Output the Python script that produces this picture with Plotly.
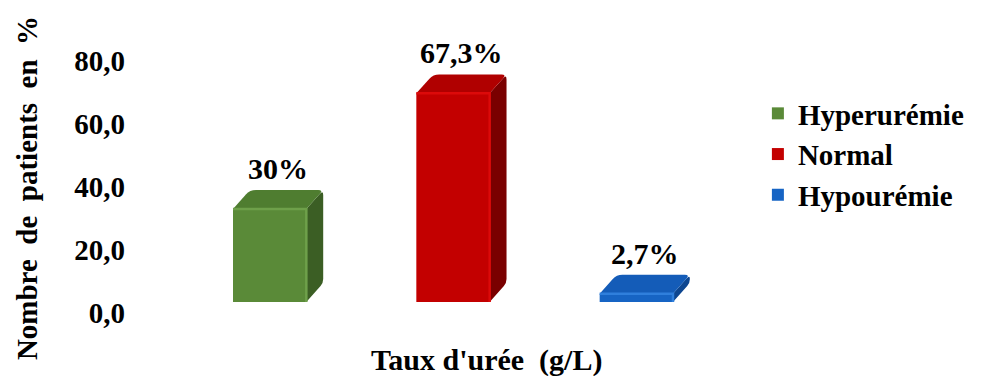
import math
import plotly.graph_objects as go

# Urea level categories and share of patients (%)
categories = ["Hyperurémie", "Normal", "Hypourémie"]
values = [30, 67.3, 2.7]
tick_values = [0, 20, 40, 60, 80]

# Face colours for each box: front, top, side, edge highlight
front_colors = ["#5a8a38", "#c30000", "#1664c4"]
top_colors = ["#4f7d30", "#b00000", "#145cb8"]
side_colors = ["#3b5e24", "#7a0000", "#0d4690"]
edge_colors = ["#6ea04a", "#dc0a0a", "#2f7fdc"]

FONT = "Liberation Serif"
BAR_W = 0.40          # front face width (x units)
DX, DY = 0.092, 6.1   # depth offset of the 3D box (x units, y units)

# Perspective between the front plane (bars) and the back wall (scale):
# the wall scale is slightly larger and its zero sits a little lower.
FRONT_PX = 3.10       # px per unit on the front plane
WALL_PX = 3.15        # px per unit on the back wall
WALL_DROP = 11        # px between front zero and wall zero

W, H = 982, 376
ML, MR, MT, MB = 178, 252, 60, 60
plot_w = W - ML - MR
plot_h = H - MT - MB
X_PX = plot_w / 3.0   # px per x unit (range spans 3 units)
y0 = -(WALL_DROP + 3) / FRONT_PX

xs = list(range(len(categories)))


def pct_label(v):
    return f"{v:g}".replace(".", ",") + "%"


def wall_to_front(t):
    return (t * WALL_PX - WALL_DROP) / FRONT_PX


def rounded_path(points, radii):
    """Closed SVG path through data points with corners rounded by radii (px)."""
    n = len(points)
    parts = []
    for k in range(n):
        px, py = points[k]
        r = radii[k]
        if r <= 0:
            parts.append(("L", (px, py)))
            continue
        segs = []
        for nb in (points[k - 1], points[(k + 1) % n]):
            vx = (nb[0] - px) * X_PX
            vy = (nb[1] - py) * FRONT_PX
            d = math.hypot(vx, vy) or 1.0
            rr = min(r, d / 2)
            segs.append((px + vx / d * rr / X_PX, py + vy / d * rr / FRONT_PX))
        parts.append(("L", segs[0]))
        parts.append(("Q", (px, py), segs[1]))
    out = []
    for j, p in enumerate(parts):
        cmd = "M" if j == 0 else p[0]
        if p[0] == "Q" and j > 0:
            out.append(f"Q{p[1][0]},{p[1][1]} {p[2][0]},{p[2][1]}")
        else:
            out.append(f"{cmd}{p[1][0]},{p[1][1]}")
    return " ".join(out) + " Z"


fig = go.Figure()

# Front faces of the boxes
for i, (cat, v) in enumerate(zip(categories, values)):
    fig.add_trace(go.Bar(
        x=[xs[i]], y=[v], name=cat, width=BAR_W,
        marker=dict(color=front_colors[i], line=dict(width=0)),
        hoverinfo="skip",
    ))

shapes = []
annotations = []
for i, v in enumerate(values):
    xl, xr = xs[i] - BAR_W / 2, xs[i] + BAR_W / 2
    # side face
    shapes.append(dict(
        type="path", xref="x", yref="y", layer="above",
        path=rounded_path(
            [(xr, 0), (xr + DX, DY), (xr + DX, v + DY), (xr, v)],
            [0, 4, 5, 0]),
        fillcolor=side_colors[i], line=dict(width=0),
    ))
    # top face
    shapes.append(dict(
        type="path", xref="x", yref="y", layer="above",
        path=rounded_path(
            [(xl, v), (xl + DX, v + DY), (xr + DX, v + DY), (xr, v)],
            [0, 6, 5, 0]),
        fillcolor=top_colors[i], line=dict(width=0),
    ))
    # bevel highlights along the front edges
    shapes.append(dict(
        type="path", xref="x", yref="y", layer="above",
        path=f"M{xl},{v} L{xr},{v} L{xr},{0}",
        line=dict(color=edge_colors[i], width=2.5),
    ))
    annotations.append(dict(
        x=xs[i] + DX / 2, y=v + DY, xref="x", yref="y",
        text=pct_label(v), showarrow=False, yanchor="bottom", yshift=3,
        font=dict(family=FONT, size=30, color="black", weight="bold"),
    ))

# x-axis title
annotations.append(dict(
    x=(488 - ML) / plot_w, y=-(360 - (H - MB)) / plot_h,
    xref="paper", yref="paper", text="Taux d'urée  (g/L)",
    xanchor="center", yanchor="middle", showarrow=False,
    font=dict(family=FONT, size=30, color="black", weight="bold"),
))

fig.update_layout(
    width=W, height=H,
    margin=dict(l=ML, r=MR, t=MT, b=MB, pad=0),
    paper_bgcolor="white", plot_bgcolor="white",
    showlegend=True,
    barmode="overlay",
    shapes=shapes,
    annotations=annotations,
    font=dict(family=FONT, color="black"),
    xaxis=dict(
        range=[-0.5, 2.5], showticklabels=False, showgrid=False,
        zeroline=False, showline=False, ticks="",
    ),
    yaxis=dict(
        range=[y0, y0 + plot_h / FRONT_PX],
        tickvals=[wall_to_front(t) for t in tick_values],
        ticktext=[f"{t:.1f}".replace(".", ",") for t in tick_values],
        showgrid=False, zeroline=False, showline=False, ticks="",
        ticklabelstandoff=52,
        tickfont=dict(family=FONT, size=29, color="black", weight="bold"),
        title=dict(text="Nombre  de  patients  en  %", standoff=28,
                   font=dict(family=FONT, size=29, color="black", weight="bold")),
    ),
    legend=dict(
        x=(760 - ML) / plot_w, y=(H - MB - 88) / plot_h,
        xanchor="left", yanchor="top",
        font=dict(family=FONT, size=29, color="black", weight="bold"),
        bgcolor="rgba(0,0,0,0)", tracegroupgap=0,
    ),
)

fig.write_html("out.html")
